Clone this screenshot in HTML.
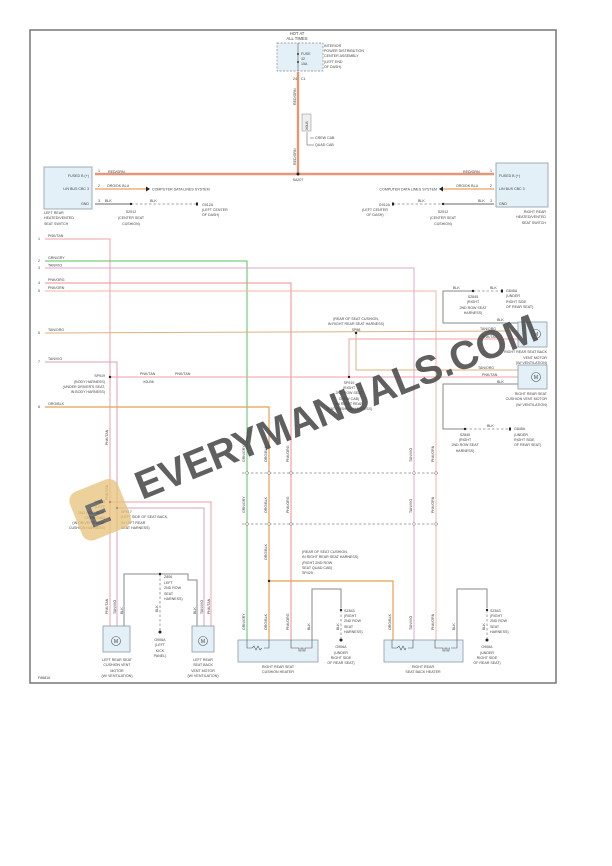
<!DOCTYPE html>
<html><head><meta charset="utf-8"><style>
html,body{margin:0;padding:0;background:#fff;}
svg{display:block;}
text{font-family:"Liberation Sans",sans-serif;fill:#444;}
.t{font-size:4.2px;}
.s{font-size:3.6px;}
</style></head><body>
<svg width="612" height="866" viewBox="0 0 612 866" xmlns="http://www.w3.org/2000/svg">
<rect width="612" height="866" fill="#fff"/>
<rect x="30" y="30" width="526" height="653" fill="none" stroke="#777" stroke-width="1.5"/>

<!-- top fuse -->
<text class="t" x="297" y="35" text-anchor="middle">HOT AT</text>
<text class="t" x="297" y="40" text-anchor="middle">ALL TIMES</text>
<rect x="277" y="43" width="46" height="28" fill="#e3f0f8" stroke="#888" stroke-width="0.7" stroke-dasharray="2,1.5"/>
<line x1="298" y1="43" x2="298" y2="71" stroke="#555" stroke-width="0.6"/>
<circle cx="298" cy="54" r="1" fill="#333"/><circle cx="298" cy="62" r="1" fill="#333"/>
<text class="s" x="301" y="55">FUSE</text><text class="s" x="301" y="60">32</text><text class="s" x="301" y="65">15A</text>
<text class="s" x="324" y="47">INTERIOR</text><text class="s" x="324" y="52">POWER DISTRIBUTION</text>
<text class="s" x="324" y="57">CENTER ASSEMBLY</text><text class="s" x="324" y="63">(LEFT END</text><text class="s" x="324" y="68">OF DASH)</text>
<line x1="298" y1="72" x2="298" y2="175" stroke="#e8967a" stroke-width="2.4"/>
<line x1="298" y1="72" x2="298" y2="175" stroke="#c8a060" stroke-width="0.4"/>
<text class="s" x="293" y="80">24</text><text class="s" x="301" y="80">C1</text>
<text class="s" transform="translate(296,105) rotate(-90)">RED/GRN</text>
<rect x="302" y="114" width="9" height="17" fill="#eee" stroke="#888" stroke-width="0.5"/>
<text class="s" transform="translate(308,130) rotate(-90)">X0LB</text>
<line x1="307" y1="132" x2="307" y2="145" stroke="#666" stroke-width="0.6"/>
<line x1="310" y1="138" x2="314" y2="138" stroke="#666" stroke-width="0.6"/>
<line x1="307" y1="145" x2="314" y2="145" stroke="#666" stroke-width="0.6"/>
<text class="s" x="315" y="139">CREW CAB</text><text class="s" x="315" y="146">QUAD CAB</text>
<text class="s" transform="translate(296,165) rotate(-90)">RED/GRN</text>

<!-- main horizontal -->
<line x1="95" y1="174" x2="494" y2="174" stroke="#e8967a" stroke-width="2.4"/>
<circle cx="298" cy="174" r="1.5" fill="#222"/>
<text class="s" x="298" y="181" text-anchor="middle">SA207</text>

<!-- left switch -->
<rect x="44" y="167" width="48" height="42" fill="#e3f0f8" stroke="#8a9aa4" stroke-width="0.8"/>
<text class="s" x="89" y="177" text-anchor="end">FUSED B (+)</text>
<text class="s" x="89" y="190" text-anchor="end">LIN BUS CBC 3</text>
<text class="s" x="89" y="205" text-anchor="end">GND</text>
<text class="s" x="98" y="172">1</text><text class="s" x="98" y="187">2</text><text class="s" x="98" y="202">3</text>
<text class="s" x="108" y="173">RED/GRN</text>
<line x1="95" y1="189" x2="146" y2="189" stroke="#e8a060" stroke-width="1.2"/>
<polygon points="146,186.5 150,189 146,191.5" fill="#222"/>
<text class="s" x="107" y="187">ORG/DK BLU</text>
<text class="s" x="152" y="190.5">COMPUTER DATA LINES SYSTEM</text>
<line x1="95" y1="204" x2="131" y2="204" stroke="#888" stroke-width="1.2"/>
<line x1="131" y1="204" x2="196" y2="204" stroke="#888" stroke-width="0.8" stroke-dasharray="2.5,2"/>
<circle cx="131" cy="204" r="1.2" fill="#222"/>
<rect x="196" y="202.5" width="2" height="3" fill="#222"/>
<text class="s" x="105" y="202">BLK</text><text class="s" x="150" y="202">BLK</text>
<text class="s" x="131" y="213" text-anchor="middle">SZ912</text>
<text class="s" x="131" y="219" text-anchor="middle">(CENTER SEAT</text>
<text class="s" x="131" y="225" text-anchor="middle">CUSHION)</text>
<text class="s" x="202" y="206">G912A</text>
<text class="s" x="202" y="211">(LEFT CENTER</text><text class="s" x="202" y="216">OF DASH)</text>
<text class="s" x="44" y="214">LEFT REAR</text><text class="s" x="44" y="219">HEATED/VENTED</text><text class="s" x="44" y="225">SEAT SWITCH</text>

<!-- right switch -->
<rect x="496" y="163" width="52" height="44" fill="#e3f0f8" stroke="#8a9aa4" stroke-width="0.8"/>
<text class="s" x="499" y="177">FUSED B (+)</text>
<text class="s" x="499" y="190">LIN BUS CBC 3</text>
<text class="s" x="499" y="205">GND</text>
<text class="s" x="490" y="172">1</text><text class="s" x="490" y="187">2</text><text class="s" x="490" y="202">3</text>
<text class="s" x="463" y="173">RED/GRN</text>
<line x1="443" y1="189" x2="494" y2="189" stroke="#e8a060" stroke-width="1.2"/>
<polygon points="443,186.5 439,189 443,191.5" fill="#222"/>
<text class="s" x="456" y="187">ORG/DK BLU</text>
<text class="s" x="437" y="190.5" text-anchor="end">COMPUTER DATA LINES SYSTEM</text>
<line x1="443" y1="204" x2="494" y2="204" stroke="#888" stroke-width="1.2"/>
<line x1="393" y1="204" x2="443" y2="204" stroke="#888" stroke-width="0.8" stroke-dasharray="2.5,2"/>
<circle cx="443" cy="204" r="1.2" fill="#222"/>
<rect x="392" y="202.5" width="2" height="3" fill="#222"/>
<text class="s" x="418" y="202">BLK</text><text class="s" x="478" y="202">BLK</text>
<text class="s" x="443" y="213" text-anchor="middle">SZ912</text>
<text class="s" x="443" y="219" text-anchor="middle">(CENTER SEAT</text>
<text class="s" x="443" y="225" text-anchor="middle">CUSHION)</text>
<text class="s" x="390" y="206" text-anchor="end">G912A</text>
<text class="s" x="375" y="211" text-anchor="middle">(LEFT CENTER</text><text class="s" x="375" y="216" text-anchor="middle">OF DASH)</text>
<text class="s" x="546" y="213" text-anchor="end">RIGHT REAR</text><text class="s" x="546" y="218" text-anchor="end">HEATED/VENTED</text><text class="s" x="546" y="224" text-anchor="end">SEAT SWITCH</text>

<!-- lower wires -->
<g fill="none" stroke-width="1">
<polyline points="45,239 110,239 110,626" stroke="#f0a0a8"/>
<polyline points="45,261 247,261 247,640" stroke="#5cbf5c"/>
<polyline points="45,268 414,268 414,640" stroke="#e0a8c8"/>
<polyline points="45,283 291,283 291,640" stroke="#f08c8c"/>
<polyline points="45,291 436,291 436,640" stroke="#f0b4a0"/>
<polyline points="45,333 518,331" stroke="#e0b080"/>
<polyline points="45,362 117,362 117,626" stroke="#d8a0c0"/>
<polyline points="45,407 269,407 269,640" stroke="#e8a050" stroke-width="1.2"/>
<polyline points="356,333 356,370 518,370" stroke="#e0b080"/>
<polyline points="518,339 349,339 349,377" stroke="#f0a0a8"/>
<polyline points="110,377 518,377" stroke="#f0a0a8"/>
<polyline points="110,502 211,502 211,626" stroke="#f0a0a8"/>
<polyline points="117,508 204,508 204,626" stroke="#d8a0c0"/>
<polyline points="269,581 393,581 393,640" stroke="#e8a050" stroke-width="1.2"/>
<polyline points="518,323 443,323 443,291 473,291" stroke="#888"/>
<polyline points="518,384 443,384 443,429 465,429" stroke="#888"/>
<polyline points="124,626 124,574 188,574 188,580 197,580 197,626" stroke="#888"/>
<polyline points="312,640 312,589 341,589 341,608" stroke="#888"/>
<polyline points="457,640 457,589 487,589 487,608" stroke="#888"/>
</g>
<g stroke="#888" stroke-width="0.8" stroke-dasharray="2.5,2" fill="none">
<line x1="473" y1="291" x2="502" y2="291"/><line x1="465" y1="429" x2="510" y2="429"/>
<line x1="160" y1="574" x2="160" y2="630"/>
<line x1="341" y1="610" x2="341" y2="638"/><line x1="487" y1="610" x2="487" y2="638"/>
<line x1="242" y1="473" x2="440" y2="473"/><line x1="242" y1="524" x2="440" y2="524"/>
</g>
<g fill="#222">
<circle cx="473" cy="291" r="1.2"/><rect x="501" y="289.5" width="2" height="3"/>
<circle cx="465" cy="429" r="1.2"/><rect x="509" y="427.5" width="2" height="3"/>
<circle cx="356" cy="333" r="1.2"/><circle cx="349" cy="377" r="1.2"/><circle cx="110" cy="377" r="1.2"/>
<circle cx="110" cy="502" r="1.2"/><circle cx="117" cy="508" r="1.2"/><circle cx="269" cy="581" r="1.2"/>
<circle cx="160" cy="574" r="1.2"/><circle cx="160" cy="632" r="1.5"/>
<circle cx="341" cy="610" r="1.2"/><circle cx="341" cy="640" r="1.5"/>
<circle cx="487" cy="610" r="1.2"/><circle cx="487" cy="640" r="1.5"/>
</g>
<g class="s">
<text class="s" x="38" y="240">1</text><text class="s" x="48" y="237">PNK/TAN</text>
<text class="s" x="38" y="262">2</text><text class="s" x="48" y="259">GRN/GRY</text>
<text class="s" x="38" y="269">3</text><text class="s" x="48" y="266.5">TAN/VIO</text>
<text class="s" x="38" y="284">4</text><text class="s" x="48" y="281">PNK/ORG</text>
<text class="s" x="38" y="292">5</text><text class="s" x="48" y="289">PNK/GRN</text>
<text class="s" x="38" y="334">6</text><text class="s" x="48" y="331">TAN/ORG</text>
<text class="s" x="38" y="363">7</text><text class="s" x="48" y="360">TAN/VIO</text>
<text class="s" x="38" y="408">8</text><text class="s" x="48" y="405">ORG/BLK</text>
<text class="s" x="453" y="289">BLK</text><text class="s" x="490" y="289">BLK</text>
<text class="s" x="473" y="298" text-anchor="middle">SZ845</text><text class="s" x="473" y="303" text-anchor="middle">(RIGHT</text>
<text class="s" x="473" y="309" text-anchor="middle">2ND ROW SEAT</text><text class="s" x="473" y="314" text-anchor="middle">HARNESS)</text>
<text class="s" x="506" y="292">G845A</text><text class="s" x="506" y="297">(UNDER</text><text class="s" x="506" y="303">RIGHT SIDE</text><text class="s" x="506" y="308">OF REAR SEAT)</text>
<text class="s" x="356" y="320" text-anchor="middle">(REAR OF SEAT CUSHION,</text>
<text class="s" x="356" y="325" text-anchor="middle">IN RIGHT REAR SEAT HARNESS)</text>
<text class="s" x="356" y="331" text-anchor="middle">SP88</text>
<text class="s" x="497" y="321">BLK</text><text class="s" x="480" y="330">TAN/ORG</text><text class="s" x="482" y="338">PNK/TAN</text>
<text class="s" x="478" y="369">TAN/ORG</text><text class="s" x="482" y="376">PNK/TAN</text><text class="s" x="497" y="383">BLK</text>
<text class="s" x="140" y="375">PNK/TAN</text><text class="s" x="175" y="375">PNK/TAN</text>
<text class="s" x="143" y="383">X0LB6</text>
<text class="s" x="105" y="377" text-anchor="end">SP919</text><text class="s" x="105" y="383" text-anchor="end">(BODY HARNESS)</text>
<text class="s" x="105" y="388" text-anchor="end">(UNDER DRIVER'S SEAT,</text><text class="s" x="105" y="393" text-anchor="end">IN BODY HARNESS)</text>
<text class="s" x="349" y="384" text-anchor="middle">SP919</text><text class="s" x="349" y="389" text-anchor="middle">(RIGHT</text>
<text class="s" x="349" y="394" text-anchor="middle">2ND ROW SEAT</text><text class="s" x="349" y="400" text-anchor="middle">CREW CAB)</text>
<text class="s" x="349" y="405" text-anchor="middle">(IN RIGHT REAR</text><text class="s" x="349" y="410" text-anchor="middle">SEAT CUSHION HARNESS)</text>
<text class="s" x="465" y="436" text-anchor="middle">SZ845</text><text class="s" x="465" y="441" text-anchor="middle">(RIGHT</text>
<text class="s" x="465" y="446" text-anchor="middle">2ND ROW SEAT</text><text class="s" x="465" y="452" text-anchor="middle">HARNESS)</text>
<text class="s" x="514" y="430">G845A</text><text class="s" x="514" y="436">(UNDER</text><text class="s" x="514" y="441">RIGHT SIDE</text><text class="s" x="514" y="446">OF REAR SEAT)</text>
<text class="s" x="487" y="427">BLK</text>
<text class="s" x="105" y="503" text-anchor="end">SP918</text><text class="s" x="105" y="508" text-anchor="end">(LEFT</text>
<text class="s" x="105" y="514" text-anchor="end">2ND ROW SEAT</text><text class="s" x="105" y="519" text-anchor="end">CREW CAB)</text>
<text class="s" x="105" y="524" text-anchor="end">(IN DRIVER'S SEAT</text><text class="s" x="105" y="529" text-anchor="end">CUSHION HARNESS)</text>
<text class="s" x="121" y="513">SP917</text><text class="s" x="121" y="518">(LEFT SIDE OF SEAT BACK,</text>
<text class="s" x="121" y="524">IN LEFT REAR</text><text class="s" x="121" y="529">SEAT HARNESS)</text>
<text class="s" x="302" y="553">(REAR OF SEAT CUSHION,</text><text class="s" x="302" y="558">IN RIGHT REAR SEAT HARNESS)</text>
<text class="s" x="302" y="564">(RIGHT 2ND ROW</text><text class="s" x="302" y="569">SEAT QUAD CAB)</text><text class="s" x="302" y="574">SP429</text>
<text class="s" x="164" y="578">Z806</text><text class="s" x="164" y="584">LEFT</text><text class="s" x="164" y="589">2ND ROW</text><text class="s" x="164" y="595">SEAT</text><text class="s" x="164" y="600">HARNESS)</text>
<text class="s" x="160" y="641" text-anchor="middle">G906A</text><text class="s" x="160" y="646" text-anchor="middle">(LEFT</text><text class="s" x="160" y="652" text-anchor="middle">KICK</text><text class="s" x="160" y="657" text-anchor="middle">PANEL)</text>
<text class="s" x="344" y="612">SZ843</text><text class="s" x="344" y="617">(RIGHT</text><text class="s" x="344" y="622">2ND ROW</text><text class="s" x="344" y="628">SEAT</text><text class="s" x="344" y="633">HARNESS)</text>
<text class="s" x="490" y="612">SZ843</text><text class="s" x="490" y="617">(RIGHT</text><text class="s" x="490" y="622">2ND ROW</text><text class="s" x="490" y="628">SEAT</text><text class="s" x="490" y="633">HARNESS)</text>
<text class="s" x="341" y="648" text-anchor="middle">G906A</text><text class="s" x="341" y="654" text-anchor="middle">(UNDER</text><text class="s" x="341" y="659" text-anchor="middle">RIGHT SIDE</text><text class="s" x="341" y="664" text-anchor="middle">OF REAR SEAT)</text>
<text class="s" x="487" y="648" text-anchor="middle">G906A</text><text class="s" x="487" y="654" text-anchor="middle">(UNDER</text><text class="s" x="487" y="659" text-anchor="middle">RIGHT SIDE</text><text class="s" x="487" y="664" text-anchor="middle">OF REAR SEAT)</text>
<text class="s" x="38" y="679">F86816</text>
</g>
<!-- vertical wire labels -->
<g class="s">
<text class="s" transform="translate(245,462) rotate(-90)">GRN/GRY</text>
<text class="s" transform="translate(267,462) rotate(-90)">ORG/BLK</text>
<text class="s" transform="translate(289,462) rotate(-90)">PNK/ORG</text>
<text class="s" transform="translate(412,462) rotate(-90)">TAN/VIO</text>
<text class="s" transform="translate(434,462) rotate(-90)">PNK/GRN</text>
<text class="s" transform="translate(245,513) rotate(-90)">GRN/GRY</text>
<text class="s" transform="translate(267,513) rotate(-90)">ORG/BLK</text>
<text class="s" transform="translate(289,513) rotate(-90)">PNK/ORG</text>
<text class="s" transform="translate(412,513) rotate(-90)">TAN/VIO</text>
<text class="s" transform="translate(434,513) rotate(-90)">PNK/GRN</text>
<text class="s" transform="translate(267,560) rotate(-90)">ORG/BLK</text>
<text class="s" transform="translate(108,445) rotate(-90)">PNK/TAN</text>
<text class="s" transform="translate(108,500) rotate(-90)">PNK/TAN</text>
<text class="s" transform="translate(108,614) rotate(-90)">PNK/TAN</text>
<text class="s" transform="translate(116,614) rotate(-90)">TAN/VIO</text>
<text class="s" transform="translate(123,614) rotate(-90)">BLK</text>
<text class="s" transform="translate(196,614) rotate(-90)">BLK</text>
<text class="s" transform="translate(203,614) rotate(-90)">TAN/VIO</text>
<text class="s" transform="translate(210,614) rotate(-90)">PNK/TAN</text>
<text class="s" transform="translate(158,612) rotate(-90)">BLK</text>
<text class="s" transform="translate(245,630) rotate(-90)">GRN/GRY</text>
<text class="s" transform="translate(267,630) rotate(-90)">ORG/BLK</text>
<text class="s" transform="translate(289,630) rotate(-90)">PNK/ORG</text>
<text class="s" transform="translate(310,630) rotate(-90)">BLK</text>
<text class="s" transform="translate(339,630) rotate(-90)">BLK</text>
<text class="s" transform="translate(391,630) rotate(-90)">ORG/BLK</text>
<text class="s" transform="translate(412,630) rotate(-90)">TAN/VIO</text>
<text class="s" transform="translate(434,630) rotate(-90)">PNK/GRN</text>
<text class="s" transform="translate(455,630) rotate(-90)">BLK</text>
<text class="s" transform="translate(485,630) rotate(-90)">BLK</text>
</g>
<g fill="#fff" stroke="#666" stroke-width="0.5">
<circle cx="247" cy="473" r="1.3"/><circle cx="269" cy="473" r="1.3"/><circle cx="291" cy="473" r="1.3"/><circle cx="414" cy="473" r="1.3"/><circle cx="436" cy="473" r="1.3"/>
<circle cx="247" cy="524" r="1.3"/><circle cx="269" cy="524" r="1.3"/><circle cx="291" cy="524" r="1.3"/><circle cx="414" cy="524" r="1.3"/><circle cx="436" cy="524" r="1.3"/>
</g>

<!-- motors -->
<g fill="#e3f0f8" stroke="#8a9aa4" stroke-width="0.8">
<rect x="518" y="322" width="29" height="25"/>
<rect x="518" y="365" width="29" height="24"/>
<rect x="103" y="626" width="27" height="26"/>
<rect x="192" y="626" width="22" height="26"/>
<rect x="238" y="640" width="80" height="22"/>
<rect x="384" y="640" width="79" height="22"/>
</g>
<g fill="none" stroke="#555" stroke-width="0.6">
<circle cx="536" cy="334" r="4.5"/><circle cx="536" cy="377" r="4.5"/>
<circle cx="116" cy="641" r="4.5"/><circle cx="203" cy="641" r="4.5"/>
<polyline points="247,640 247,648 252,648"/><polyline points="269,640 269,648 264,648"/>
<path d="M252,648 l2,-2 l2,4 l2,-4 l2,4 l2,-2"/>
<polyline points="291,640 291,648 297,648"/><polyline points="312,640 312,648 306,648"/>
<path d="M297,648 h2 v3 h2 v-3 h2 v3 h2 v-3 h1"/>
<polyline points="392,640 392,648 397,648"/><polyline points="413,640 413,648 408,648"/>
<path d="M397,648 l2,-2 l2,4 l2,-4 l2,4 l1,-2"/>
<polyline points="435,640 435,648 441,648"/><polyline points="457,640 457,648 451,648"/>
<path d="M441,648 h2 v3 h2 v-3 h2 v3 h2 v-3 h1"/>
</g>
<g font-size="5" text-anchor="middle">
<text x="536" y="336">M</text><text x="536" y="379">M</text><text x="116" y="643">M</text><text x="203" y="643">M</text>
</g>
<g class="s">
<text class="s" x="547" y="353" text-anchor="end">RIGHT REAR SEAT BACK</text><text class="s" x="547" y="359" text-anchor="end">VENT MOTOR</text><text class="s" x="547" y="364" text-anchor="end">(W/ VENTILATION)</text>
<text class="s" x="547" y="395" text-anchor="end">RIGHT REAR SEAT</text><text class="s" x="547" y="400" text-anchor="end">CUSHION VENT MOTOR</text><text class="s" x="547" y="406" text-anchor="end">(W/ VENTILATION)</text>
<text class="s" x="117" y="661" text-anchor="middle">LEFT REAR SEAT</text><text class="s" x="117" y="666" text-anchor="middle">CUSHION VENT</text><text class="s" x="117" y="672" text-anchor="middle">MOTOR</text><text class="s" x="117" y="677" text-anchor="middle">(W/ VENTILATION)</text>
<text class="s" x="203" y="661" text-anchor="middle">LEFT REAR</text><text class="s" x="203" y="666" text-anchor="middle">SEAT BACK</text><text class="s" x="203" y="672" text-anchor="middle">VENT MOTOR</text><text class="s" x="203" y="677" text-anchor="middle">(W/ VENTILATION)</text>
<text class="s" x="278" y="668" text-anchor="middle">RIGHT REAR SEAT</text><text class="s" x="278" y="673" text-anchor="middle">CUSHION HEATER</text>
<text class="s" x="423" y="668" text-anchor="middle">RIGHT REAR</text><text class="s" x="423" y="673" text-anchor="middle">SEAT BACK HEATER</text>
</g>

<!-- watermark -->
<g transform="translate(100,512) rotate(-22)" opacity="0.75">
<rect x="-25" y="-28" width="52" height="52" rx="10" fill="#e8c27a"/>
<text x="-14" y="12" font-size="34" font-weight="bold" fill="#777">E</text>
</g>
<text transform="translate(142,500) rotate(-22)" font-size="40" font-weight="bold" fill="#6e6e6e" fill-opacity="0.85" textLength="430" lengthAdjust="spacingAndGlyphs" style="font-family:'Liberation Sans',sans-serif">EVERYMANUALS.COM</text>
</svg>
</body></html>
